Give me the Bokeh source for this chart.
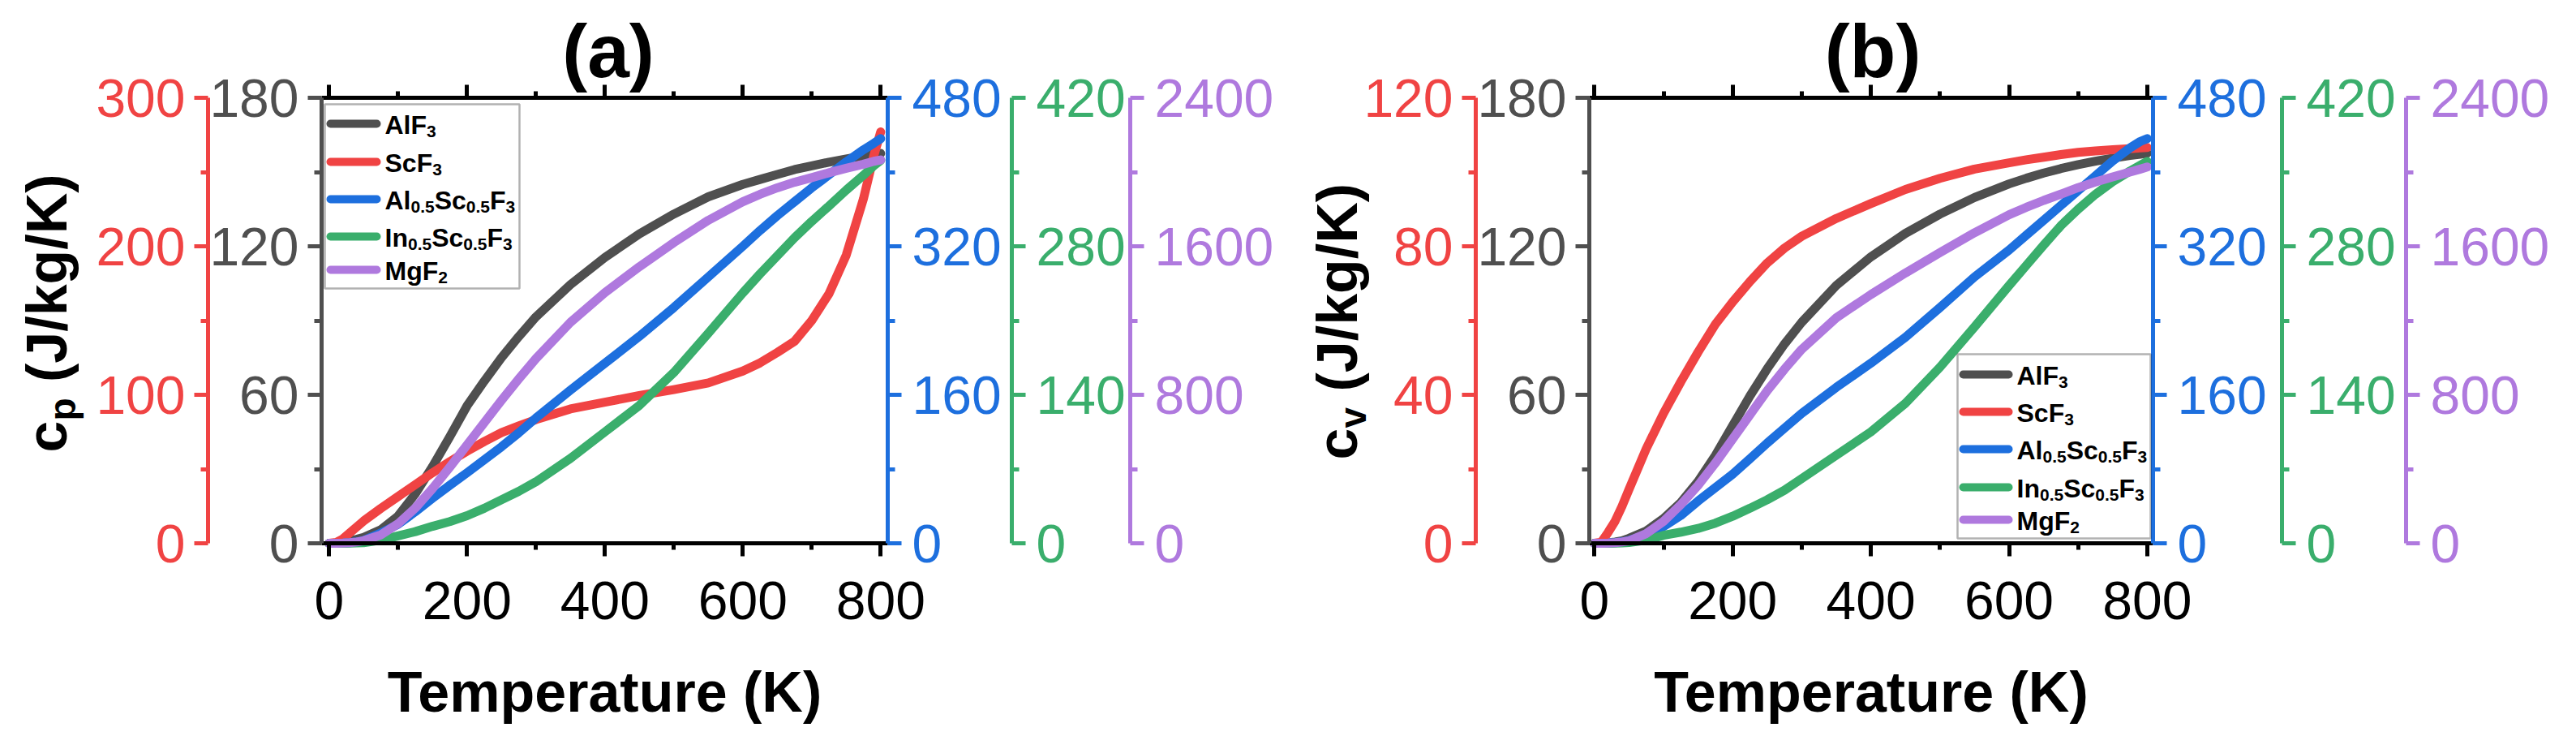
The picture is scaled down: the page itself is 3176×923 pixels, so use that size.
import math
from bokeh.plotting import figure
from bokeh.models import (Range1d, LinearAxis, FixedTicker, Label, BoxAnnotation,
                          CustomJSTickFormatter)
from bokeh.embed import file_html
from bokeh.resources import INLINE

FONT = "Liberation Sans"

# ---------------- data ----------------
temperature = [0, 10, 20, 30, 40, 50, 75, 100, 125, 150, 175, 200, 225, 250, 275, 300,
               350, 400, 450, 500, 550, 600, 625, 650, 675, 700, 725, 750, 775, 790, 800]

# panel (a): c_p
cp_AlF3 = [0, 0.1, 0.5, 1.0, 1.6, 2.4, 5.5, 11, 20, 31, 43, 55.5, 65.5, 75, 83.5, 91.5,
           104.5, 115.5, 125, 133, 140, 145, 147, 149, 151, 152.5, 154, 155.3, 156.5, 157.2, 157.5]
cp_ScF3 = [0, 0.5, 3, 7, 11, 15, 23.5, 31.5, 39.5, 47.5, 55, 62, 68.5, 74.5, 79, 83.3,
           90.5, 95, 99.5, 103.5, 108, 116, 121.5, 128.5, 136, 150, 168, 194, 232, 261, 277]
cp_AlScF3 = [0, 0, 0.2, 0.6, 1.5, 3, 11, 20.5, 34, 48.5, 62.5, 76, 90, 104, 119, 135,
             165, 194, 223, 254, 287, 320, 337, 353, 368, 383, 397, 411, 424, 431, 436]
cp_InScF3 = [0, 0, 0, 0.1, 0.3, 0.6, 3, 7, 11, 16, 20.5, 26, 33, 41, 49, 58,
             80, 105, 130, 161, 198, 236, 254, 271, 288, 303.5, 318, 333, 347, 356, 361]
cp_MgF2 = [0, 0, 1, 3, 7, 14, 45, 105, 190, 295, 410, 530, 650, 770, 885, 995,
           1190, 1350, 1490, 1620, 1740, 1840, 1880, 1915, 1945, 1970, 1996, 2020, 2042, 2058, 2065]

# panel (b): c_v
cv_AlF3 = [0, 0.05, 0.2, 0.5, 1, 2, 5, 10, 16.5, 25, 35.5, 47.5, 59.5, 70.5, 80.5, 89.3,
           104.2, 115.7, 125.2, 133, 139.7, 145.2, 147.5, 149.6, 151.4, 153, 154.4, 155.6, 156.7, 157.2, 157.6]
cv_ScF3 = [0, 0.3, 3, 6, 10, 14.5, 25.5, 35, 43.5, 51.5, 59, 65, 70.5, 75.5, 79.5, 82.7,
           87.5, 91.5, 95.3, 98.3, 100.8, 102.5, 103.3, 104, 104.7, 105.3, 105.7, 106, 106.3, 106.5, 106.6]
cv_AlScF3 = [0, 0, 0.2, 0.6, 1.5, 3, 9, 18, 30, 45.5, 60, 74.5, 91, 108, 124, 140,
             168, 194, 222, 254, 287, 316, 332, 348, 364, 380, 396, 412, 426, 433, 436]
cv_InScF3 = [0, 0, 0, 0.1, 0.3, 0.8, 3, 7.5, 10.5, 14, 19, 25.5, 33, 41, 50, 61,
             83, 105, 132, 166, 204, 243, 262, 281, 299.5, 315, 329, 341, 351, 356.5, 360]
cv_MgF2 = [0, 0, 1, 3, 7, 13, 52, 118, 208, 312, 432, 562, 692, 822, 938, 1045,
           1215, 1340, 1456, 1566, 1673, 1770, 1810, 1847, 1881, 1916, 1946, 1974, 2000, 2016, 2027]

# legend names as (text, is_subscript) pieces
legend_pieces = [
    [("AlF", 0), ("3", 1)],
    [("ScF", 0), ("3", 1)],
    [("Al", 0), ("0.5", 1), ("Sc", 0), ("0.5", 1), ("F", 0), ("3", 1)],
    [("In", 0), ("0.5", 1), ("Sc", 0), ("0.5", 1), ("F", 0), ("3", 1)],
    [("MgF", 0), ("2", 1)],
]
series_colors = ["#4F4F4F", "#F04343", "#1D6FDE", "#3AAE6C", "#AF79DE"]

x_major = [0, 200, 400, 600, 800]
x_minor = [100, 300, 500, 700]
gray_major = [0, 60, 120, 180]
gray_minor = [30, 90, 150]
red_major_a = [0, 100, 200, 300]
red_minor_a = [50, 150, 250]
red_major_b = [0, 40, 80, 120]
red_minor_b = [20, 60, 100]
blue_major = [0, 160, 320, 480]
blue_minor = [80, 240, 400]
green_major = [0, 140, 280, 420]
green_minor = [70, 210, 350]
purple_major = [0, 800, 1600, 2400]
purple_minor = [400, 1200, 2000]

# Arial / Liberation Sans Bold advance widths (1/1000 em)
ADV = {"A": 722, "l": 278, "F": 611, "S": 667, "c": 556, "I": 278, "n": 611, "M": 833,
       "g": 611, "0": 556, ".": 278, "5": 556, "3": 556, "2": 556, "p": 611, "v": 556, " ": 278}


def tw(s, size):
    return sum(ADV[ch] for ch in s) / 1000.0 * size


PAGE = 8
FIG_W = 3160
FIG_H = 907
PLOT_TOP, PLOT_BOTTOM = 128, 677  # page pixels
BASE_FIX = 0.31  # em offset between requested and drawn alphabetic baseline

KY = (PLOT_BOTTOM - PLOT_TOP) / 180.0
Y_START = -(PAGE + FIG_H - PLOT_BOTTOM) / KY
Y_END = 180 + (PLOT_TOP - PAGE) / KY


def sx(wx):
    return wx - PAGE


def sy(wy):
    return PAGE + FIG_H - wy


def x_range_for(cfg):
    wx0, wx1 = cfg["plot_x"]
    xd0, xd1 = cfg["x_data"]
    kx = (wx1 - wx0) / (xd1 - xd0)
    return Range1d(xd0 - (wx0 - PAGE) / kx, xd1 + (PAGE + FIG_W - wx1) / kx)


def scaled_range(top):
    return Range1d(Y_START * top / 180.0, Y_END * top / 180.0)


cfg_a = dict(tag="(a)", sub="p", xr="default", red="red_a", red_max=300,
             red_major=red_major_a, red_minor=red_minor_a,
             plot_x=(404, 1102), x_data=(-10.9, 810.2), red_wx=264, green_wx=1255,
             purple_wx=1401, title_x=757.5, ylab=(87, 565),
             legend_box=(408, 136, 648, 363), legend_y=[160, 207, 253, 299, 340],
             legend_line=(410, 477), legend_text_x=482,
             ys=[cp_AlF3, cp_ScF3, cp_AlScF3, cp_InScF3, cp_MgF2])
cfg_b = dict(tag="(b)", sub="v", xr="b", red="red_b", red_max=120,
             red_major=red_major_b, red_minor=red_minor_b,
             plot_x=(1967, 2662), x_data=(-7.4, 808.3), red_wx=1827, green_wx=2821,
             purple_wx=2974, title_x=2316.5, ylab=(1678, 574),
             legend_box=(2421, 444, 2659, 671), legend_y=[469, 515, 561, 608, 648],
             legend_line=(2423, 2489), legend_text_x=2494,
             ys=[cv_AlF3, cv_ScF3, cv_AlScF3, cv_InScF3, cv_MgF2])

p = figure(frame_width=FIG_W, frame_height=FIG_H, x_range=x_range_for(cfg_a),
           y_range=Range1d(Y_START, Y_END), output_backend="svg",
           toolbar_location=None, min_border=0, outline_line_color=None)
p.title.visible = False
p.grid.visible = False
p.background_fill_color = "white"
p.border_fill_color = "white"
p.extra_x_ranges = {"b": x_range_for(cfg_b)}
p.extra_y_ranges = {"red_a": scaled_range(300), "red_b": scaled_range(120),
                    "blue": scaled_range(480), "green": scaled_range(420),
                    "purple": scaled_range(2400)}


def style_axis(ax, color, major, minor, standoff, tick_out=17, minor_out=9):
    ax.ticker = FixedTicker(ticks=major, minor_ticks=minor)
    ax.axis_line_color = color
    ax.axis_line_width = 5
    ax.major_tick_line_color = color
    ax.minor_tick_line_color = color
    ax.major_tick_line_width = 5
    ax.minor_tick_line_width = 5
    ax.major_tick_in = 0
    ax.minor_tick_in = 0
    ax.major_tick_out = tick_out
    ax.minor_tick_out = minor_out
    ax.major_label_text_color = color
    ax.major_label_text_font = FONT
    ax.major_label_text_font_size = "66px"
    ax.major_label_standoff = standoff


def label(wx, wy, text, size, angle=0.0, align="left"):
    # (wx, wy) = wanted baseline anchor in page pixels
    if angle == 0:
        wy = wy - BASE_FIX * size
    else:
        wx = wx - BASE_FIX * size
    p.add_layout(Label(x=sx(wx), y=sy(wy), x_units="screen", y_units="screen",
                       text=text, angle=angle, text_font=FONT,
                       text_font_size=f"{size}px", text_font_style="bold",
                       text_align=align, text_baseline="alphabetic",
                       text_color="black"))


def box(l, t, r, b, **kw):
    p.add_layout(BoxAnnotation(left=sx(l), right=sx(r), top=sy(t), bottom=sy(b),
                               left_units="screen", right_units="screen",
                               top_units="screen", bottom_units="screen", **kw))


def build_panel(cfg, first):
    xr = cfg["xr"]
    wx0, wx1 = cfg["plot_x"]
    xd0, xd1 = cfg["x_data"]
    kx = (wx1 - wx0) / (xd1 - xd0)

    def wx_to_x(wx):
        return xd0 + (wx - wx0) / kx

    # bottom axis
    if first:
        xa = p.xaxis[0]
    else:
        xa = LinearAxis(x_range_name=xr)
        p.add_layout(xa, "below")
    style_axis(xa, "black", x_major, x_minor, 31, tick_out=16, minor_out=8)
    xa.fixed_location = 0
    xa.bounds = (xd0, xd1)
    xa.axis_label = "Temperature (K)"
    xa.axis_label_text_font = FONT
    xa.axis_label_text_font_style = "bold"
    xa.axis_label_text_font_size = "70px"
    xa.axis_label_text_color = "black"
    xa.axis_label_standoff = 48

    # top axis: ticks only
    top = LinearAxis(x_range_name=xr, formatter=CustomJSTickFormatter(code="return ''"))
    style_axis(top, "black", x_major, x_minor, 0, tick_out=16, minor_out=8)
    top.major_label_text_font_size = "0px"
    top.fixed_location = 180
    top.bounds = (xd0, xd1)
    p.add_layout(top, "above")

    # left axes: gray (inner) and red (outer)
    if first:
        ya = p.yaxis[0]
    else:
        ya = LinearAxis(x_range_name=xr)
        p.add_layout(ya, "left")
    style_axis(ya, "#4F4F4F", gray_major, gray_minor, 11)
    ya.fixed_location = xd0
    ya.bounds = (0, 180)
    red_ax = LinearAxis(x_range_name=xr, y_range_name=cfg["red"])
    style_axis(red_ax, "#F04343", cfg["red_major"], cfg["red_minor"], 11)
    red_ax.fixed_location = wx_to_x(cfg["red_wx"])
    red_ax.bounds = (0, cfg["red_max"])
    p.add_layout(red_ax, "left")

    # right axes
    for name, col, major, minor, wx, topv in [
            ("blue", "#1D6FDE", blue_major, blue_minor, wx1, 480),
            ("green", "#3AAE6C", green_major, green_minor, cfg["green_wx"], 420),
            ("purple", "#AF79DE", purple_major, purple_minor, cfg["purple_wx"], 2400)]:
        ax = LinearAxis(x_range_name=xr, y_range_name=name)
        style_axis(ax, col, major, minor, 13)
        ax.fixed_location = wx_to_x(wx)
        ax.bounds = (0, topv)
        p.add_layout(ax, "right")

    # data curves
    for yv, rn, col in zip(cfg["ys"], ["default", cfg["red"], "blue", "green", "purple"],
                           series_colors):
        p.line(temperature, yv, x_range_name=xr, y_range_name=rn, line_color=col,
               line_width=11, line_cap="round", line_join="round")

    # legend (box, key lines, labels with subscripts)
    bl, bt, br, bb = cfg["legend_box"]
    box(bl, bt, br, bb, fill_color="white", fill_alpha=1.0, line_color="black", line_width=2.5)
    lx0, lx1 = cfg["legend_line"]
    for pieces, col, ey in zip(legend_pieces, series_colors, cfg["legend_y"]):
        box(lx0, ey - 5, lx1, ey + 5, fill_color=col, fill_alpha=1.0, line_color=None,
            border_radius=5)
        cx = cfg["legend_text_x"]
        base = ey + 11
        for txt, is_sub in pieces:
            size = 21 if is_sub else 32
            label(cx, base + (5.5 if is_sub else 0), txt, size)
            cx += tw(txt, size)

    # panel title
    label(cfg["title_x"], 99.5, cfg["tag"], 93, align="center")

    # rotated y label: c + subscript + (J/kg/K)
    up = math.pi / 2
    bx, by = cfg["ylab"]
    label(bx, by, "c", 70, angle=up)
    label(bx + 12, by - tw("c", 70), cfg["sub"], 46, angle=up)
    label(bx, by - tw("c", 70) - tw(cfg["sub"], 46) - tw(" ", 70), "(J/kg/K)", 70, angle=up)


build_panel(cfg_a, True)
build_panel(cfg_b, False)

open("out.html", "w").write(file_html(p, INLINE))
